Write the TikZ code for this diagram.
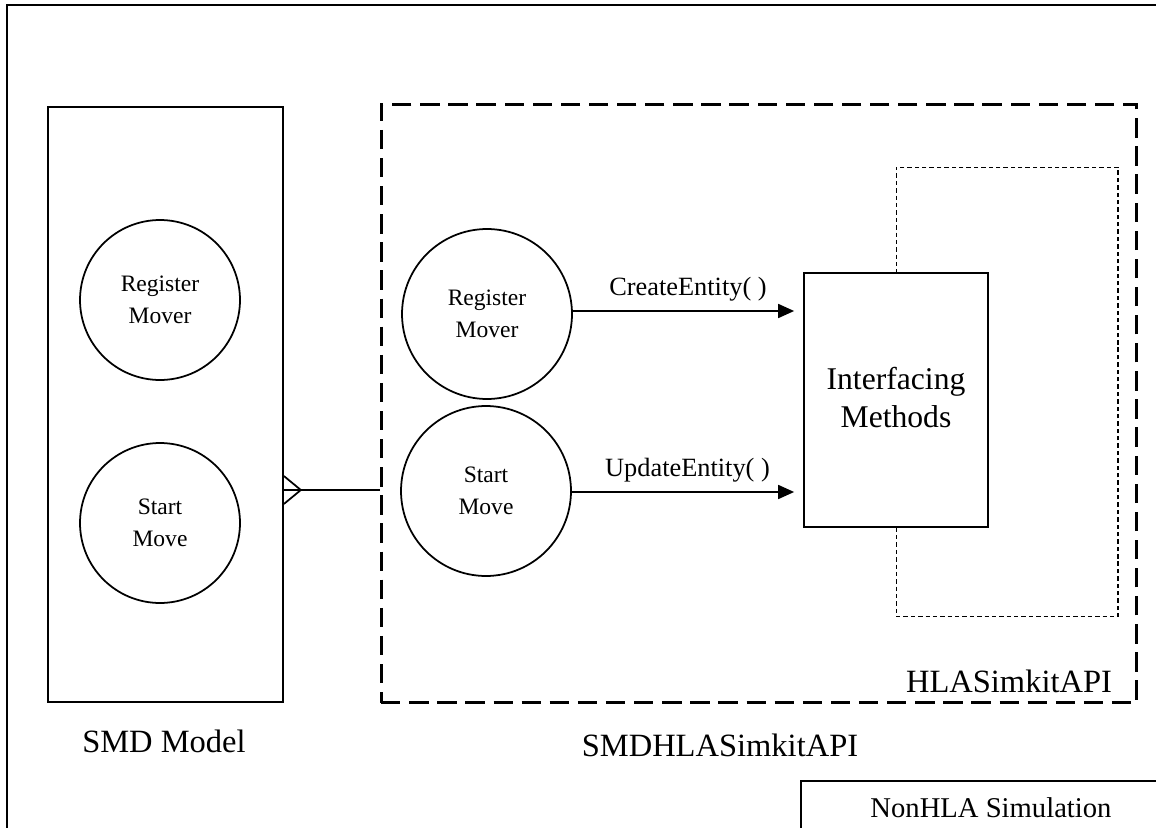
\documentclass[tikz,border=0pt]{standalone}
\usepackage{fontspec}
\setmainfont{Liberation Serif}
\usetikzlibrary{arrows.meta,calc}

\tikzset{
	proc/.style={draw,circle,line width=1pt,minimum size=#1,inner sep=0pt,align=center,
		font=\fontsize{13.4}{18.5}\selectfont},
	boxlbl/.style={font=\fontsize{18.5}{22}\selectfont},
	callarrow/.style={line width=1pt,-{Triangle[length=0.32cm,width=0.28cm]},shorten >=0.18cm},
	calllbl/.style={font=\fontsize{15}{18}\selectfont,midway,above=2pt},
}

\begin{document}
\begin{tikzpicture}[x=0.02cm,y=-0.02cm]
	\useasboundingbox (0,0) rectangle (1156,828);
	\clip (0,0) rectangle (1156,828);
	\draw [line width=1.3pt] (7,850) -- (7,5) -- (1180,5);

	% SMD model side
	\node [draw,line width=1pt,minimum width=4.7cm,minimum height=11.9cm] (smd) at (165.5,404.5) {};
	\node [proc=3.2cm] (regA) at (160,300) {Register\\Mover};
	\node [proc=3.2cm] (startA) at (160,523) {Start\\Move};
	\node [boxlbl] (smdlbl) at (164,741) {SMD Model};

	% SMDHLASimkitAPI side
	\node [draw,line width=1.7pt,dash pattern=on 11pt off 5pt,minimum width=15.12cm,minimum height=11.98cm] (api) at (759,403.5) {};
	\node [boxlbl] (apilbl) at (720,745) {SMDHLASimkitAPI};
	\node [draw,line width=0.6pt,dash pattern=on 2.5pt off 1.7pt,minimum width=4.44cm,minimum height=9cm] (hla) at (1007,392) {};
	\node [boxlbl] (hlalbl) at (1009,681) {HLASimkitAPI};
	\node [draw,fill=white,line width=1pt,minimum width=3.68cm,minimum height=5.08cm,align=center,
		font=\fontsize{18}{22}\selectfont] (ifm) at (896,400) {\raisebox{3pt}{Interfacing}\\\raisebox{3pt}{Methods}};
	\node [proc=3.4cm] (regB) at (487,314) {Register\\Mover};
	\node [proc=3.4cm] (startB) at (486,491) {Start\\Move};

	\draw [callarrow] (regB.east |- 0,311) -- (ifm.west |- 0,311) node [calllbl] {CreateEntity( )};
	\draw [callarrow] (startB.east |- 0,492) -- (ifm.west |- 0,492) node [calllbl] {UpdateEntity( )};

	% link with crow's foot
	\coordinate (foot) at (smd.east |- 0,490);
	\draw [line width=1pt] (foot) -- (foot -| api.west);
	\draw [line width=1pt] ($(foot)+(0,-14)$) -- ($(foot)+(17,0)$) -- ($(foot)+(0,14)$);

	\node [draw,line width=1.2pt,minimum width=7.6cm,minimum height=1.08cm,
		font=\fontsize{16.3}{19}\selectfont] (nonhla) at (991,808) {NonHLA Simulation};
\end{tikzpicture}
\end{document}
